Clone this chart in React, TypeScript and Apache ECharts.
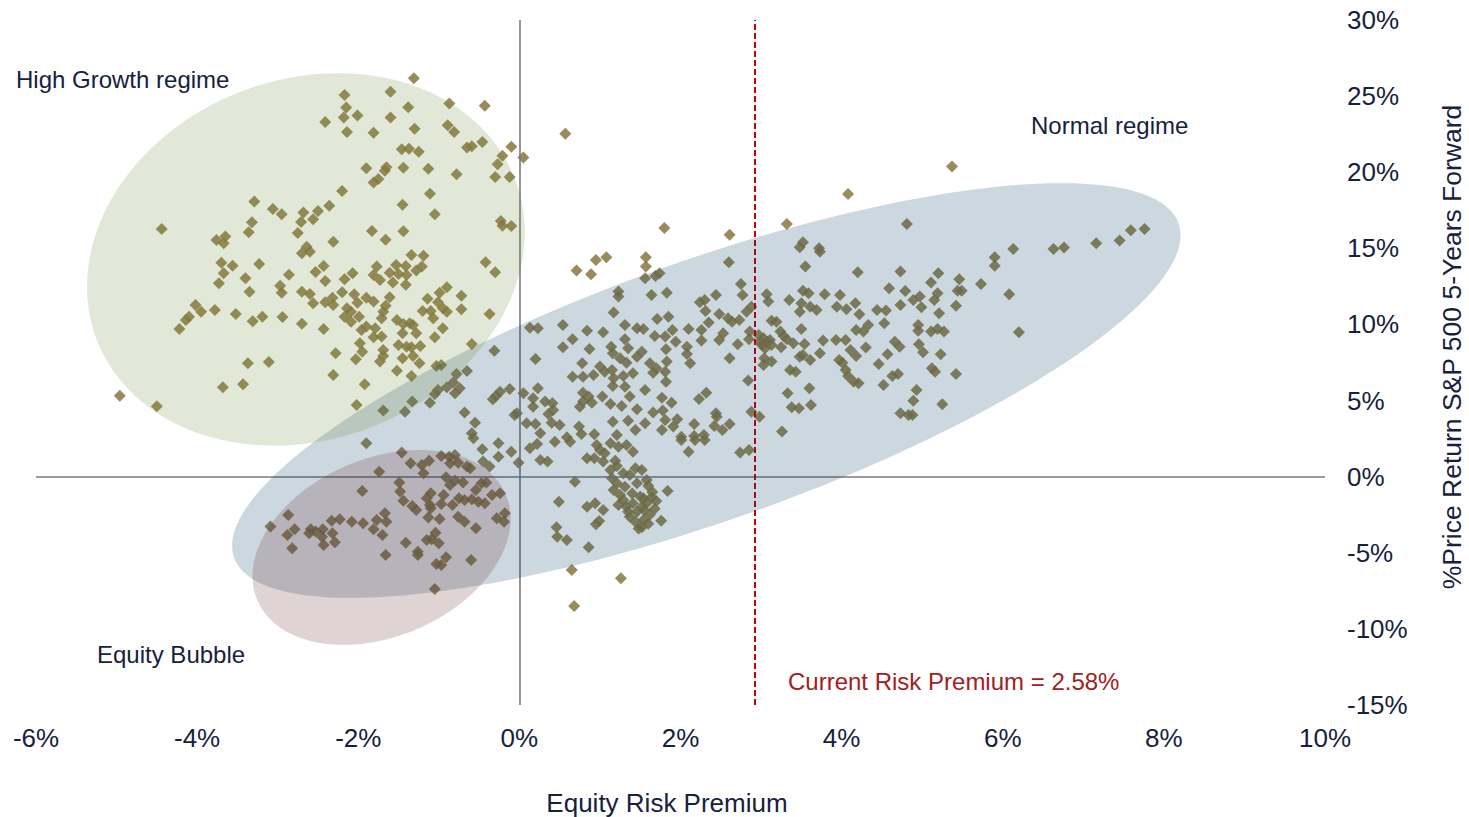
import React, { useEffect, useRef } from "react";
import * as echarts from "echarts";

// ---- Data (Equity Risk Premium %, 5-year forward S&P 500 price return %) ----
const X_TICKS = [-6, -4, -2, 0, 2, 4, 6, 8, 10];
const Y_TICKS = [-15, -10, -5, 0, 5, 10, 15, 20, 25, 30];
const CURRENT_RISK_PREMIUM_LINE = 2.92;

const HIGH_GROWTH_POINTS = [
  [-2.17,25.08],[-2.15,24.25],[-2.18,23.59],[-2.01,23.72],[-2.41,23.30],[-2.14,22.65],[-1.90,20.26],[-2.20,18.77],[-3.29,18.07],[-3.06,17.59],[-2.95,17.24],[-2.36,17.79],[-2.68,17.35],[-2.50,17.46],[-2.56,16.91],[-2.71,16.73],[-3.32,16.71],[-3.36,16.06],[-2.75,16.01],[-4.44,16.27],[-3.76,15.55],[-3.65,15.77],[-3.67,15.33],[-2.31,15.44],[-2.64,15.11],
  [-1.31,26.18],[-1.60,25.28],[-1.38,24.27],[-0.87,24.51],[-0.43,24.36],[-1.60,23.59],[-1.81,22.60],[-1.30,22.85],[-0.89,23.09],[-0.81,22.65],[0.57,22.52],[-1.46,21.51],[-1.37,21.55],[-1.25,21.35],[-0.65,21.62],[-0.59,21.71],[-0.46,21.99],[-0.10,21.68],[-0.21,21.09],[0.05,20.96],[-0.27,20.53],[-0.30,19.69],[-0.12,19.69],[-1.65,20.33],[-1.67,20.09],[-1.44,20.30],[-1.13,20.22],[-0.78,19.87],[-1.75,19.56],[-1.81,19.32],[-1.11,18.59],[-1.45,17.87],[-1.05,17.24],[-0.23,16.80],[-0.21,16.49],[-0.10,16.47],[-1.83,16.14],[-1.44,16.12],[-1.66,15.57],
  [-3.70,14.06],[-3.67,13.36],[-3.56,13.86],[-3.73,12.71],[-3.23,13.97],[-3.40,13.04],[-3.35,12.14],[-2.86,13.27],[-2.97,12.55],[-2.95,12.09],[-2.70,14.68],[-2.60,14.78],[-2.53,13.45],[-2.43,13.84],[-2.41,12.86],[-2.17,12.97],[-2.07,13.36],[-2.70,12.14],[-2.60,12.00],[-2.56,11.39],[-2.41,11.46],[-2.32,11.76],[-2.31,11.28],[-2.20,12.12],[-2.05,11.98],[-2.01,11.43],[-1.90,11.76],[-2.14,11.06],[-2.17,10.51],[-2.09,10.84],[-2.09,10.18],[-1.99,10.51],[-1.96,9.64],[-1.90,9.86],[-1.98,8.76],[-1.95,8.21],[-2.03,7.71],[-2.28,8.11],[-2.31,6.68],[-1.92,6.07],[-2.02,4.71],[-2.43,9.70],[-2.70,10.05],[-2.94,10.49],[-3.19,10.51],[-3.31,10.21],[-3.52,10.69],[-3.78,10.95],[-4.02,11.28],[-3.95,10.84],[-4.10,10.51],[-4.14,10.30],[-4.22,9.70],[-3.37,7.45],[-3.11,7.54],[-3.68,5.87],[-3.43,6.07],[-4.96,5.32],[-4.50,4.63],
  [-1.34,14.57],[-1.19,14.52],[-0.42,14.09],[-0.30,13.43],[-1.77,13.80],[-1.53,13.91],[-1.41,13.84],[-1.21,13.80],[-1.61,13.40],[-1.50,13.32],[-1.40,13.25],[-1.28,13.54],[-1.81,13.25],[-1.73,12.92],[-1.57,12.75],[-1.41,12.60],[-0.90,12.44],[-0.99,12.09],[-0.72,11.89],[-1.14,11.68],[-1.61,11.79],[-1.81,11.50],[-1.01,11.46],[-0.95,11.06],[-0.90,10.84],[-0.72,11.00],[-1.20,10.89],[-1.10,10.89],[-1.07,10.41],[-0.37,10.69],[-1.69,10.84],[-1.66,11.22],[-1.71,10.41],[-1.52,10.30],[-1.36,10.08],[-1.32,9.97],[-1.44,10.03],[-0.95,9.75],[-1.79,9.75],[-1.45,9.42],[-1.28,9.42],[-1.71,9.20],[-1.05,9.16],[-1.81,9.16],[-1.50,8.65],[-1.40,8.54],[-1.34,8.50],[-1.23,8.59],[-1.69,8.32],[-1.69,7.93],[-1.32,7.93],[-1.45,7.78],[-1.73,7.56],[-1.24,7.45],[-1.52,6.96],[-1.34,6.62],
];

const NORMAL_POINTS = [
  [-0.59,8.72],[-0.31,8.28],[-1.03,7.27],[-0.97,7.34],[-0.78,6.75],[-0.65,6.94],[-0.82,6.18],[-0.90,5.87],[-0.74,5.81],[-1.01,5.70],[-1.05,5.43],[-0.80,5.48],[-1.11,4.86],[-1.33,4.93],[-1.42,4.27],[-1.69,4.34],[-0.68,4.21],[-0.55,3.55],[-0.59,2.85],[-0.57,2.52],[-0.33,5.09],[-0.24,5.58],[-0.12,5.76],[-0.29,5.30],[-0.03,4.17],[-0.06,4.05],
  [0.71,13.54],[0.89,13.30],[0.95,14.24],[1.08,14.41],[1.23,12.16],[1.23,11.83],[1.17,10.78],[0.54,9.97],[0.13,9.79],[0.23,9.75],[0.84,9.59],[1.04,9.49],[1.31,9.97],[1.46,9.75],[0.66,9.03],[0.54,8.50],[0.87,8.39],[1.14,8.54],[1.31,9.03],[1.35,8.44],[1.16,8.11],[0.20,7.73],[0.78,7.45],[1.25,7.78],[1.33,7.49],[1.46,7.88],[1.00,7.23],[1.06,6.90],[0.66,6.57],[0.79,6.57],[0.92,6.68],[1.15,7.01],[1.29,6.62],[1.41,6.79],[1.17,6.46],[1.31,5.91],[1.16,5.96],[0.23,5.81],[0.05,5.48],[0.17,5.15],[0.32,4.93],[0.41,4.82],[0.79,5.52],[0.86,5.26],[0.79,4.93],[0.90,4.86],[1.03,5.26],[0.75,4.60],[1.13,4.78],[1.27,4.65],[1.37,5.26],[1.46,4.43],[0.17,4.60],[0.42,4.38],[0.36,4.12],[0.09,3.51],[0.20,3.46],[0.40,3.55],[0.50,3.40],[0.74,3.29],[1.16,3.61],[1.35,3.68],[0.26,2.85],[0.59,2.59],[0.77,2.81],[0.93,2.79],[1.21,2.74],[1.44,3.07],
  [1.80,16.34],[2.61,15.90],[3.32,16.60],[4.08,18.57],[4.81,16.60],[3.52,15.40],[3.48,15.07],[3.72,15.01],
  [5.37,20.37],[7.59,16.19],[7.76,16.27],[7.45,15.51],[7.16,15.33],[6.63,14.96],[6.76,15.05],[6.13,14.96],
  [1.57,14.42],[1.57,13.80],[2.60,14.09],[3.55,13.80],[3.73,14.78],[4.20,13.43],[4.73,13.47],[1.56,13.04],[1.69,13.19],[1.74,13.36],[2.75,12.66],[1.64,11.94],[1.83,12.09],[2.44,11.94],[2.77,11.94],[3.07,11.98],[3.09,11.50],[3.35,11.61],[3.52,12.22],[3.59,12.05],[3.79,11.98],[3.98,11.94],[3.50,11.39],[3.48,10.84],[3.61,11.17],[3.69,10.95],[3.94,11.17],[4.06,11.00],[4.17,11.39],[4.22,10.67],[4.59,12.38],[4.79,12.20],[4.73,11.28],[4.44,10.95],[4.55,10.91],[4.53,10.08],[2.24,11.46],[2.30,11.61],[2.31,10.89],[2.48,10.69],[2.59,10.41],[2.64,10.18],[2.73,10.30],[2.82,10.84],[2.88,11.17],[2.35,10.12],[1.71,10.36],[1.85,10.51],[1.54,9.70],[1.68,9.24],[1.81,9.20],[1.90,9.64],[2.10,9.70],[2.26,9.64],[2.26,8.94],[2.48,8.98],[2.53,9.42],[2.71,8.70],[2.86,9.53],[2.85,9.03],
  [2.97,9.31],[3.03,9.09],[3.07,8.87],[3.01,8.65],[3.11,8.98],[3.13,8.65],[3.05,8.43],[2.99,8.87],
  [3.13,10.25],[3.19,10.18],[3.24,9.53],[3.28,9.24],[3.32,9.03],[3.25,8.50],[3.04,7.78],[3.13,7.56],[3.03,7.34],[3.40,8.76],[3.50,9.70],[3.54,8.72],[3.77,8.94],[3.93,8.98],[4.05,8.98],[3.73,8.11],[3.48,7.88],[3.61,7.67],[3.52,8.00],[3.97,7.67],[4.01,7.49],[4.05,7.01],[4.08,6.62],[4.15,6.24],[4.21,6.14],[4.11,8.32],[4.18,7.93],[4.30,8.48],[4.18,9.64],[4.27,9.53],[4.33,9.97],[4.46,7.40],[4.57,8.04],[4.66,8.87],[4.72,8.54],[4.63,6.62],[4.70,6.75],[4.52,6.03],[3.36,7.01],[3.43,6.90],[3.33,5.48],[3.60,5.81],[3.38,4.56],[3.47,4.49],[3.62,4.71],[3.26,2.96],[2.84,6.31],[2.88,4.27],[2.98,3.94],[2.61,7.78],[2.08,8.54],[2.08,8.06],[2.12,7.45],[1.94,8.87],[1.82,8.37],[1.83,7.56],[1.52,8.21],[1.62,7.45],[1.70,7.12],[1.66,6.83],[1.81,6.90],[1.82,6.24],[1.56,5.70],[2.32,5.52],[2.23,5.10],[1.77,5.19],[1.89,4.86],[1.66,4.21],[1.78,4.34],[1.81,3.73],[1.96,3.77],[1.91,3.29],[1.56,3.51],[1.77,3.07],[2.17,3.46],[2.44,4.17],[2.45,3.94],[2.61,3.46],[2.42,3.33],[2.52,3.07],[2.29,2.74],[2.17,2.67],[2.01,2.63],[4.73,4.17],[4.83,4.05],
  [5.90,14.41],[5.90,13.86],[5.20,13.36],[5.11,12.75],[5.46,12.97],[5.73,12.66],[5.44,12.22],[5.49,12.22],[5.19,12.05],[6.08,11.98],[4.97,11.83],[4.89,11.61],[4.99,11.13],[5.15,11.61],[5.42,11.22],[5.21,10.74],[4.95,9.97],[4.95,9.59],[5.11,9.53],[5.19,9.70],[5.27,9.53],[6.20,9.49],[4.96,8.70],[5.01,8.17],[5.23,8.04],[5.12,7.12],[5.16,6.90],[5.42,6.75],[4.93,5.70],[4.89,4.99],[5.25,4.76],[4.88,4.05],
  [0.13,1.87],[0.22,2.15],[0.26,1.10],[0.35,0.99],[0.44,2.30],[0.63,2.30],[0.69,-0.33],[0.49,-1.64],[0.46,-3.32],[0.47,-3.94],[0.59,-4.16],[0.86,-4.64],[0.84,-1.97],[0.94,-1.75],[1.04,-2.19],[0.99,-2.91],[0.95,-3.13],[0.84,1.21],[0.93,1.21],[1.00,1.75],[1.06,1.54],[1.21,0.70],[1.13,0.44],[1.15,-0.11],[0.65,-6.13],[1.26,-6.68],[0.68,-8.50],
  [1.17,-0.88],[1.25,-1.20],[1.29,-1.53],[1.23,-1.86],[1.33,-1.97],[1.41,-1.75],[1.46,-2.30],[1.37,-2.63],[1.44,-2.96],[1.31,-0.66],[1.21,-0.43],[1.46,-0.43],[1.50,-1.31],
  [0.96,2.08],[1.13,2.19],[1.23,1.97],[1.33,2.08],[1.41,1.64],[1.04,0.99],[1.19,1.05],[1.29,0.22],[1.37,0.11],[1.44,0.55],
  [2.10,1.64],[2.74,1.58],[2.85,1.75],[2.01,2.41],[2.18,2.41],[2.30,2.41],[1.58,-0.22],[1.52,0.44],[1.84,-0.94],[1.54,-1.42],[1.64,-1.35],[1.58,-1.75],[1.52,-1.97],[1.76,-2.89],[1.54,-2.84],[1.52,-3.32],
  [-0.45,0.99],[-0.37,0.66],[-0.26,1.31],[-0.10,1.64],[-0.26,2.19],[-0.46,1.80],[-0.01,0.92],
  [1.60,-0.60],[1.65,-1.00],[1.70,-1.60],[1.55,-2.20],[1.62,-2.50],[1.68,-2.10],[1.40,-1.10],[1.35,-2.30],[1.48,-3.40],[1.60,-3.10],
];

const BUBBLE_POINTS = [
  [-1.95,-0.94],[-1.90,2.19],[-2.87,-2.52],[-3.09,-3.28],[-2.79,-3.46],[-2.88,-3.83],[-2.82,-4.71],[-2.59,-3.46],[-2.61,-3.72],[-2.53,-3.61],[-2.44,-3.46],[-2.45,-3.94],[-2.43,-4.49],[-2.33,-2.89],[-2.23,-2.80],[-2.32,-3.72],[-2.29,-4.31],[-2.08,-2.96],[-1.94,-3.06],
  [-1.46,1.58],[-1.35,0.88],[-1.74,0.33],[-1.21,0.77],[-1.12,1.05],[-1.19,0.22],[-0.97,1.36],[-0.87,1.31],[-0.80,1.43],[-0.76,0.92],[-0.65,0.66],[-0.61,0.55],[-0.86,0.88],[-0.91,-0.04],[-0.80,-0.26],[-0.70,-0.39],[-0.86,-0.55],[-1.49,-0.39],[-1.48,-0.98],[-1.44,-1.58],[-1.10,-1.09],[-1.15,-1.42],[-1.11,-1.86],[-1.10,-2.08],[-1.33,-1.93],[-0.97,-1.79],[-0.94,-1.20],[-0.83,-1.86],[-0.75,-1.42],[-0.68,-1.53],[-0.59,-1.49],[-0.54,-0.87],[-0.47,-0.43],[-0.41,-0.39],[-0.34,-1.20],[-0.24,-1.09],[-0.43,-1.75],[-0.51,-1.64],[-0.18,-2.40],[-0.28,-2.73],[-0.19,-2.96],[-0.54,-3.39],[-0.76,-2.63],[-0.68,-2.96],[-0.99,-2.78],[-1.13,-2.69],[-1.28,-2.19],[-1.67,-2.40],[-1.77,-2.84],[-1.65,-2.96],[-1.81,-3.46],[-1.70,-3.83],[-1.04,-3.68],[-1.09,-4.11],[-1.00,-4.38],[-1.15,-4.16],[-1.41,-4.34],[-1.26,-4.93],[-1.26,-5.14],[-1.66,-5.14],[-0.91,-5.30],[-1.03,-5.74],[-0.97,-5.80],[-0.60,-5.47],[-1.05,-7.38],
];

// Regime ellipses (centre in data units, semi-axes in px, tilt in degrees)
const REGIMES = [
  { name: "Normal regime", cx: 2.32, cy: 5.66, rx: 501, ry: 130, angle: 19.5, fill: "rgba(0,60,100,0.2)" },
  { name: "High Growth regime", cx: -2.65, cy: 14.27, rx: 224, ry: 180, angle: 21, fill: "rgba(110,140,60,0.2)" },
  { name: "Equity Bubble", cx: -1.71, cy: -4.65, rx: 135, ry: 89, angle: 23, fill: "rgba(95,35,40,0.2)" },
];

const FONT = "'Liberation Sans', Arial, Helvetica, sans-serif";
const TEXT_COLOR = "#16223d";
const RED_TEXT = "#a3201d";
const POINT_COLOR = "#8a7640";

function pointSeries(name: string, data: number[][]) {
  return {
    name,
    type: "scatter",
    data,
    symbol: "diamond",
    symbolSize: 12,
    itemStyle: { color: POINT_COLOR, opacity: 0.85 },
    z: 3,
    silent: true,
  };
}

function textEl(text: string, x: number, y: number, size: number, color: string, align = "left", rotation = 0) {
  return {
    type: "text",
    x,
    y,
    rotation,
    z: 10,
    silent: true,
    style: {
      text,
      fill: color,
      fontSize: size,
      fontFamily: FONT,
      align,
      verticalAlign: "middle",
      textAlign: align,
      textVerticalAlign: "middle",
    },
  };
}

export default function App() {
  const ref = useRef<HTMLDivElement>(null);

  useEffect(() => {
    if (!ref.current) return;
    const chart = echarts.init(ref.current, undefined, { renderer: "svg" });

    const option: any = {
      animation: false,
      backgroundColor: "#ffffff",
      grid: { left: 36, right: 144, top: 20, bottom: 112, containLabel: false, outerBoundsMode: "none" },
      xAxis: {
        type: "value",
        min: X_TICKS[0],
        max: X_TICKS[X_TICKS.length - 1],
        interval: 2,
        axisLine: { show: false },
        axisTick: { show: false },
        splitLine: { show: false },
        axisLabel: {
          formatter: (v: number) => `${v}%`,
          fontSize: 26,
          fontFamily: FONT,
          color: TEXT_COLOR,
          margin: 20,
          showMinLabel: true,
          showMaxLabel: true,
        },
      },
      yAxis: {
        type: "value",
        position: "right",
        min: Y_TICKS[0],
        max: Y_TICKS[Y_TICKS.length - 1],
        interval: 5,
        axisLine: { show: false },
        axisTick: { show: false },
        splitLine: { show: false },
        axisLabel: {
          formatter: (v: number) => `${v}%`,
          fontSize: 26,
          fontFamily: FONT,
          color: TEXT_COLOR,
          margin: 22,
          align: "left",
          showMinLabel: true,
          showMaxLabel: true,
        },
      },
      series: [
        {
          name: "reference lines",
          type: "scatter",
          data: [],
          z: 1,
          silent: true,
          markLine: {
            silent: true,
            symbol: ["none", "none"],
            label: { show: false },
            animation: false,
            data: [
              { xAxis: 0, lineStyle: { color: "#7a7a7a", width: 1.6, type: "solid" } },
              { yAxis: 0, lineStyle: { color: "#7a7a7a", width: 1.6, type: "solid" } },
              { xAxis: CURRENT_RISK_PREMIUM_LINE, lineStyle: { color: "#cc0000", width: 2, type: [6, 3] } },
            ],
          },
        },
        pointSeries("High Growth", HIGH_GROWTH_POINTS),
        pointSeries("Normal", NORMAL_POINTS),
        pointSeries("Bubble", BUBBLE_POINTS),
        {
          name: "regimes",
          type: "custom",
          silent: true,
          clip: false,
          z: 6,
          data: REGIMES.map((r) => [r.cx, r.cy]),
          renderItem: (params: any, api: any) => {
            const e = REGIMES[params.dataIndex];
            const c = api.coord([api.value(0), api.value(1)]);
            const th = (e.angle * Math.PI) / 180;
            const pts: number[][] = [];
            const n = 160;
            for (let i = 0; i < n; i++) {
              const t = (i / n) * Math.PI * 2;
              const dx = e.rx * Math.cos(t);
              const dy = e.ry * Math.sin(t);
              pts.push([
                c[0] + dx * Math.cos(th) - dy * Math.sin(th),
                c[1] - (dx * Math.sin(th) + dy * Math.cos(th)),
              ]);
            }
            return { type: "polygon", shape: { points: pts }, style: { fill: e.fill } };
          },
        },
      ],
      graphic: [
        textEl("High Growth regime", 16, 79, 24, TEXT_COLOR),
        textEl("Normal regime", 1031, 125, 24, TEXT_COLOR),
        textEl("Equity Bubble", 97, 654, 24, TEXT_COLOR),
        textEl("Current Risk Premium = 2.58%", 788, 681, 24, RED_TEXT),
        textEl("Equity Risk Premium", 667, 803, 26, TEXT_COLOR, "center"),
        textEl("%Price Return S&P 500 5-Years Forward", 1452, 347, 26.5, TEXT_COLOR, "center", Math.PI / 2),
      ],
    };

    chart.setOption(option);
    return () => chart.dispose();
  }, []);

  return (
    <div
      ref={ref}
      style={{ position: "fixed", left: 0, top: 0, width: 1469, height: 817, background: "#fff" }}
    />
  );
}
